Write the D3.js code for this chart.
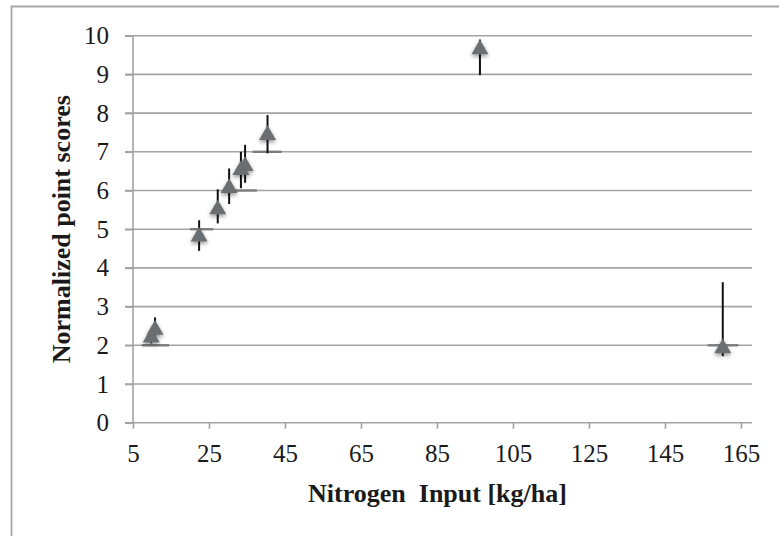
<!DOCTYPE html>
<html>
<head>
<meta charset="utf-8">
<script src="https://cdn.jsdelivr.net/npm/d3@7"></script>
<style>
  html, body { margin: 0; padding: 0; background: #fff; }
  svg { display: block; }
  text { font-family: "Liberation Serif", "Times New Roman", serif; fill: #1a1a1a; }
</style>
</head>
<body>
<svg id="chart" width="779" height="536"></svg>
<script>
// ---- data ----
const nitrogenInput = [9.8, 10.8, 22.4, 27.3, 30.3, 33.4, 34.5, 40.4, 96.3, 160.2];
const pointScore    = [2.2, 2.4, 4.81, 5.51, 6.06, 6.53, 6.63, 7.43, 9.65, 1.92];
const errLow        = [2.05, 2.25, 4.44, 5.15, 5.65, 6.06, 6.2, 6.96, 8.98, 1.72];
const errHigh       = [2.35, 2.72, 5.23, 6.03, 6.57, 7.0, 7.18, 7.95, 9.9, 3.63];
// short horizontal bars
const hbarY  = [2, 5, 6, 7, 2];
const hbarX0 = [7.3, 20.0, 30.0, 36.5, 156.2];
const hbarX1 = [14.5, 26.1, 37.6, 44.1, 164.3];
const xTicks = [5, 25, 45, 65, 85, 105, 125, 145, 165];
const yTicks = [0, 1, 2, 3, 4, 5, 6, 7, 8, 9, 10];
const xTitle = "Nitrogen  Input [kg/ha]";
const yTitle = "Normalized point scores";

const svg = d3.select("#chart");
const x = d3.scaleLinear().domain([5, 165]).range([133, 741]);
const y = d3.scaleLinear().domain([0, 10]).range([422.7, 35.7]);
const gridLeft = 125, gridRight = 752;
const tickFont = 25, titleFont = 26;

const defs = svg.append("defs");
const f = defs.append("filter").attr("id", "shadow").attr("x", "-60%").attr("y", "-60%").attr("width", "220%").attr("height", "220%");
f.append("feGaussianBlur").attr("in", "SourceAlpha").attr("stdDeviation", 2.2).attr("result", "b");
f.append("feOffset").attr("in", "b").attr("dx", 0).attr("dy", 2).attr("result", "o");
f.append("feComponentTransfer").attr("in", "o").attr("result", "o2")
  .append("feFuncA").attr("type", "linear").attr("slope", 0.45);
const m = f.append("feMerge");
m.append("feMergeNode").attr("in", "o2");
m.append("feMergeNode").attr("in", "SourceGraphic");

// chart frame (top & left visible)
svg.append("path").attr("d", "M11.5,536 L11.5,6.5 L779,6.5")
  .attr("fill", "none").attr("stroke", "#a6a6a6").attr("stroke-width", 1.8);

// gridlines
svg.append("g").selectAll("line").data(yTicks.filter(d => d > 0)).join("line")
  .attr("x1", gridLeft).attr("x2", gridRight)
  .attr("y1", d => y(d)).attr("y2", d => y(d))
  .attr("stroke", "#a3a3a3").attr("stroke-width", 1.6);

// y axis
const yAxis = d3.axisLeft(y).tickValues(yTicks).tickSize(8).tickPadding(16).tickFormat(d3.format("d"));
const gy = svg.append("g").attr("transform", `translate(${x(5)},0)`).call(yAxis);
gy.select(".domain").attr("stroke", "#a3a3a3").attr("stroke-width", 1.6).attr("d", `M0,${y(0)}V${y(10)}`);
gy.selectAll(".tick line").attr("stroke", "#a3a3a3").attr("stroke-width", 1.6);
gy.selectAll(".tick text").attr("font-size", tickFont).attr("font-family", "Liberation Serif").attr("fill", "#1a1a1a");

// x axis
const xAxis = d3.axisBottom(x).tickValues(xTicks).tickSize(6).tickPadding(16).tickFormat(d3.format("d"));
const gx = svg.append("g").attr("transform", `translate(0,${y(0)})`).call(xAxis);
gx.select(".domain").attr("stroke", "#a3a3a3").attr("stroke-width", 1.6).attr("d", `M${gridLeft},0H${gridRight}`);
gx.selectAll(".tick line").attr("stroke", "#a3a3a3").attr("stroke-width", 1.6);
gx.selectAll(".tick text").attr("font-size", tickFont).attr("font-family", "Liberation Serif").attr("fill", "#1a1a1a");

// horizontal bars
svg.append("g").selectAll("line").data(hbarY.map((v, i) => i)).join("line")
  .attr("x1", i => x(hbarX0[i])).attr("x2", i => x(hbarX1[i]))
  .attr("y1", i => y(hbarY[i])).attr("y2", i => y(hbarY[i]))
  .attr("stroke", "#7a7d7e").attr("stroke-width", 2.4);

const idx = nitrogenInput.map((v, i) => i);
// error bars
svg.append("g").selectAll("line").data(idx).join("line")
  .attr("x1", i => x(nitrogenInput[i])).attr("x2", i => x(nitrogenInput[i]))
  .attr("y1", i => y(errLow[i])).attr("y2", i => y(errHigh[i]))
  .attr("stroke", "#111").attr("stroke-width", 2);

// markers
const tri = d3.symbol().type(d3.symbolTriangle).size(125);
svg.append("g").attr("filter", "url(#shadow)").selectAll("path").data(idx).join("path")
  .attr("d", tri)
  .attr("transform", i => `translate(${x(nitrogenInput[i])},${y(pointScore[i])})`)
  .attr("fill", "#6a6e6f");

// titles
svg.append("text").attr("x", (gridLeft + gridRight) / 2 - 1).attr("y", 502)
  .attr("text-anchor", "middle").attr("font-size", titleFont).attr("font-weight", "bold")
  .attr("xml:space", "preserve").style("white-space", "pre").text(xTitle);
svg.append("text").attr("transform", `translate(70,${(y(0) + y(10)) / 2}) rotate(-90)`)
  .attr("text-anchor", "middle").attr("font-size", titleFont).attr("font-weight", "bold").text(yTitle);
</script>
</body>
</html>
